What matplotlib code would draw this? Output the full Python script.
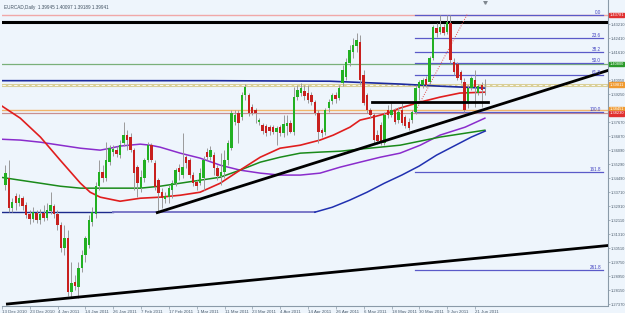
import matplotlib
matplotlib.use("Agg")
import matplotlib.pyplot as plt
import matplotlib.transforms as mtransforms
import numpy as np

plt.rcParams['font.family'] = ['Liberation Sans', 'DejaVu Sans']

# --- Data (prices) ---
title = "EURCAD,Daily  1.39945 1.40097 1.39189 1.39941"
date_labels = ["13 Dec 2010", "23 Dec 2010", "4 Jan 2011", "14 Jan 2011", "26 Jan 2011",
               "7 Feb 2011", "17 Feb 2011", "1 Mar 2011", "11 Mar 2011", "23 Mar 2011",
               "4 Apr 2011", "14 Apr 2011", "26 Apr 2011", "6 May 2011", "18 May 2011",
               "30 May 2011", "9 Jun 2011", "21 Jun 2011"]
price_ticks = ["1.27370", "1.28150", "1.28950", "1.29750", "1.30510", "1.31310", "1.32110",
               "1.32910", "1.33710", "1.34490", "1.35290", "1.36090", "1.36870", "1.37670",
               "", "1.39250", "1.40050", "", "1.41610", "1.42410", "1.43210"]

opens = [1.3411, 1.3451, 1.3281, 1.3349, 1.3309, 1.3337, 1.3298, 1.3247, 1.3218, 1.3252,
         1.3213, 1.3252, 1.3224, 1.3264, 1.3292, 1.3247, 1.3185, 1.3054, 1.3111, 1.2805,
         1.2862, 1.2834, 1.2941, 1.3015, 1.3071, 1.3201, 1.3247, 1.3405, 1.3485, 1.3451,
         1.3541, 1.3598, 1.3609, 1.3581, 1.3649, 1.3694, 1.3683, 1.3609, 1.3513, 1.3394,
         1.3451, 1.3552, 1.3637, 1.3535, 1.3439, 1.3371, 1.3332, 1.3343, 1.3383, 1.3422,
         1.3507, 1.3468, 1.3569, 1.3552, 1.3468, 1.3428, 1.3422, 1.3451, 1.3598, 1.3569,
         1.3581, 1.3507, 1.3462, 1.3485, 1.3552, 1.3620, 1.3768, 1.3818, 1.3796, 1.3920,
         1.3920, 1.3852, 1.3835, 1.3768, 1.3751, 1.3745, 1.3739, 1.3739, 1.3711, 1.3739,
         1.3705, 1.3745, 1.3762, 1.3711, 1.3909, 1.3932, 1.3943, 1.3932, 1.3920, 1.3881,
         1.3818, 1.3722, 1.3711, 1.3847, 1.3886, 1.3920, 1.3903, 1.3988, 1.4022, 1.4101,
         1.4164, 1.4198, 1.4220, 1.4034, 1.3920, 1.3835, 1.3807, 1.3694, 1.3751, 1.3649,
         1.3835, 1.3807, 1.3835, 1.3779, 1.3835, 1.3796, 1.3768, 1.3779, 1.3824, 1.3960,
         1.3977, 1.4011, 1.3994, 1.4130, 1.4300, 1.4277, 1.4305, 1.4277, 1.4328, 1.4107,
         1.4096, 1.4050, 1.3994, 1.3875, 1.3960, 1.4005, 1.3932, 1.3977, 1.39945]
highs = [1.3524, 1.3552, 1.3337, 1.3366, 1.3360, 1.3349, 1.3315, 1.3269, 1.3286, 1.3269,
         1.3275, 1.3298, 1.3309, 1.3371, 1.3303, 1.3269, 1.3201, 1.3185, 1.3156, 1.2975,
         1.2902, 1.2975, 1.3043, 1.3122, 1.3241, 1.3286, 1.3428, 1.3552, 1.3524, 1.3654,
         1.3637, 1.3637, 1.3632, 1.3666, 1.3768, 1.3722, 1.3705, 1.3620, 1.3524, 1.3496,
         1.3564, 1.3654, 1.3649, 1.3552, 1.3451, 1.3394, 1.3371, 1.3411, 1.3439, 1.3507,
         1.3530, 1.3705, 1.3581, 1.3564, 1.3485, 1.3439, 1.3507, 1.3575, 1.3620, 1.3632,
         1.3598, 1.3524, 1.3592, 1.3609, 1.3666, 1.3835, 1.3835, 1.3835, 1.3937, 1.3983,
         1.3932, 1.3869, 1.3847, 1.3790, 1.3762, 1.3756, 1.3751, 1.3751, 1.3745, 1.3751,
         1.3807, 1.3807, 1.3779, 1.3966, 1.3977, 1.3988, 1.3977, 1.3977, 1.3937, 1.3892,
         1.3835, 1.3734, 1.3847, 1.3898, 1.3932, 1.3937, 1.3977, 1.4090, 1.4130, 1.4203,
         1.4243, 1.4271, 1.4260, 1.4062, 1.3932, 1.3847, 1.3818, 1.3722, 1.3768, 1.3824,
         1.3864, 1.3875, 1.3847, 1.3852, 1.3875, 1.3807, 1.3790, 1.3835, 1.3977, 1.4005,
         1.4016, 1.4028, 1.4141, 1.4317, 1.4328, 1.4373, 1.4322, 1.4373, 1.4373, 1.4130,
         1.4107, 1.4062, 1.4016, 1.3977, 1.4028, 1.4062, 1.3983, 1.3994, 1.40097]
lows = [1.3383, 1.3258, 1.3258, 1.3269, 1.3292, 1.3269, 1.3224, 1.3190, 1.3201, 1.3196,
        1.3190, 1.3207, 1.3213, 1.3247, 1.3224, 1.3156, 1.3032, 1.3015, 1.2783, 1.2777,
        1.2817, 1.2771, 1.2919, 1.2975, 1.3054, 1.3179, 1.3224, 1.3383, 1.3428, 1.3434,
        1.3524, 1.3575, 1.3569, 1.3564, 1.3632, 1.3609, 1.3598, 1.3383, 1.3343, 1.3371,
        1.3428, 1.3541, 1.3541, 1.3383, 1.3258, 1.3281, 1.3309, 1.3309, 1.3337, 1.3405,
        1.3439, 1.3451, 1.3507, 1.3451, 1.3405, 1.3383, 1.3411, 1.3383, 1.3552, 1.3552,
        1.3468, 1.3439, 1.3411, 1.3451, 1.3524, 1.3609, 1.3751, 1.3649, 1.3779, 1.3892,
        1.3801, 1.3807, 1.3762, 1.3751, 1.3700, 1.3688, 1.3694, 1.3700, 1.3637, 1.3688,
        1.3683, 1.3694, 1.3705, 1.3694, 1.3892, 1.3915, 1.3892, 1.3875, 1.3864, 1.3807,
        1.3649, 1.3683, 1.3694, 1.3824, 1.3869, 1.3875, 1.3892, 1.3971, 1.4005, 1.4084,
        1.4130, 1.4164, 1.3977, 1.3864, 1.3818, 1.3790, 1.3649, 1.3643, 1.3637, 1.3637,
        1.3790, 1.3796, 1.3756, 1.3762, 1.3751, 1.3734, 1.3722, 1.3762, 1.3813, 1.3892,
        1.3960, 1.3966, 1.3983, 1.4118, 1.4249, 1.4266, 1.4260, 1.4266, 1.4101, 1.4034,
        1.4005, 1.3988, 1.3824, 1.3847, 1.3949, 1.3852, 1.3920, 1.3852, 1.39189]
closes = [1.3479, 1.3281, 1.3315, 1.3309, 1.3337, 1.3292, 1.3241, 1.3218, 1.3258, 1.3213,
          1.3247, 1.3224, 1.3269, 1.3298, 1.3247, 1.3185, 1.3054, 1.3111, 1.2805, 1.2856,
          1.2839, 1.2941, 1.3015, 1.3111, 1.3213, 1.3258, 1.3405, 1.3485, 1.3451, 1.3552,
          1.3620, 1.3615, 1.3586, 1.3637, 1.3694, 1.3666, 1.3609, 1.3479, 1.3422, 1.3456,
          1.3552, 1.3637, 1.3552, 1.3400, 1.3366, 1.3337, 1.3349, 1.3394, 1.3422, 1.3496,
          1.3485, 1.3513, 1.3535, 1.3468, 1.3422, 1.3405, 1.3479, 1.3552, 1.3569, 1.3609,
          1.3507, 1.3462, 1.3485, 1.3552, 1.3649, 1.3818, 1.3807, 1.3762, 1.3920, 1.3966,
          1.3818, 1.3818, 1.3818, 1.3779, 1.3717, 1.3705, 1.3717, 1.3711, 1.3734, 1.3705,
          1.3756, 1.3762, 1.3711, 1.3909, 1.3949, 1.3960, 1.3915, 1.3892, 1.3881, 1.3818,
          1.3711, 1.3705, 1.3835, 1.3881, 1.3920, 1.3898, 1.3960, 1.4062, 1.4107, 1.4175,
          1.4203, 1.4232, 1.4005, 1.3875, 1.3835, 1.3807, 1.3666, 1.3660, 1.3654, 1.3807,
          1.3807, 1.3835, 1.3768, 1.3824, 1.3762, 1.3745, 1.3734, 1.3824, 1.3960, 1.3994,
          1.4005, 1.3977, 1.4130, 1.4305, 1.4271, 1.4305, 1.4271, 1.4334, 1.4118, 1.4050,
          1.4016, 1.4005, 1.3835, 1.3960, 1.4016, 1.3966, 1.3971, 1.3949, 1.39941]

# moving averages sampled at bar positions
ma_red_idx = [-1.4, 4.3, 10.1, 15.8, 21.6, 24.4, 27.3, 33.0, 38.8, 44.5, 50.3, 56.0, 61.8,
              67.5, 73.3, 79.0, 84.8, 90.5, 94.3, 99.1, 102.0, 105.7, 109.8, 113.5, 119.3,
              125.0, 130.7, 137.9]
ma_red = [1.3864, 1.3790, 1.3683, 1.3552, 1.3422, 1.3371, 1.3343, 1.3320, 1.3337, 1.3343,
          1.3354, 1.3371, 1.3422, 1.3496, 1.3569, 1.3620, 1.3637, 1.3666, 1.3694, 1.3739,
          1.3779, 1.3796, 1.3818, 1.3847, 1.3881, 1.3909, 1.3932, 1.3937]
ma_green_idx = [-1.4, 4.3, 10.1, 15.8, 21.6, 27.3, 33.0, 38.8, 44.5, 50.3, 56.0, 61.8, 67.5,
                73.3, 79.0, 84.8, 90.5, 96.3, 102.0, 107.8, 113.5, 125.0, 137.9]
ma_green = [1.3456, 1.3439, 1.3422, 1.3405, 1.3394, 1.3394, 1.3394, 1.3394, 1.3405, 1.3422,
            1.3439, 1.3456, 1.3496, 1.3541, 1.3569, 1.3592, 1.3598, 1.3603, 1.3615, 1.3626,
            1.3637, 1.3683, 1.3722]
ma_purple_idx = [-1.4, 4.3, 10.1, 15.8, 21.6, 27.3, 30.2, 33.0, 38.8, 41.7, 44.5, 50.3,
                 56.0, 61.8, 67.5, 73.3, 79.0, 84.8, 90.5, 96.3, 102.0, 107.8, 113.5, 119.3,
                 125.0, 132.2, 137.9]
ma_purple = [1.3671, 1.3666, 1.3654, 1.3637, 1.3620, 1.3609, 1.3620, 1.3632, 1.3643, 1.3637,
             1.3626, 1.3592, 1.3564, 1.3524, 1.3496, 1.3479, 1.3468, 1.3468, 1.3479, 1.3513,
             1.3541, 1.3569, 1.3592, 1.3637, 1.3694, 1.3739, 1.3790]
ma_blue_idx = [89, 94, 99, 104, 109, 114, 119, 124, 129, 134, 138]
ma_blue = [1.3258, 1.3286, 1.3326, 1.3371, 1.3422, 1.3468, 1.3519, 1.3581, 1.3632, 1.3683,
           1.3717]
ma_navy_idx = [-1.4, 30, 60, 93.4, 113.5, 125.0, 138]
ma_navy = [1.4002, 1.4002, 1.4002, 1.3999, 1.3983, 1.3971, 1.3960]

# chart objects
fib_low, fib_high = 1.38248, 1.43764
fib_levels = [0.0, 23.6, 38.2, 50.0, 61.8, 100.0, 161.8, 261.8]
fib_start, fib_end = 117.8, 171.8
fib_diag = (117.8, 132.8)
trend_up = [(43.7, 1.32558), (173.3, 1.40600)]
trend_low = [(0.6, 1.27387), (173.3, 1.30696)]
hlines_full = [(1.43736, "#f0a8a8", 1.0), (1.43368, "black", 2.2), (1.40964, "#7ab07a", 0.9),
               (1.38362, "#f2b46a", 1.0), (1.38220, "#c89090", 0.9)]
dashed_line = 1.39804
support_line = (105.5, 138.8, 1.38814)
navy_seg = (-1.0, 31.0, 1.32591)
slate_seg = (31.0, 89.1, 1.32591)
axis_tags = [(1.43736, "1.43781", "#e03030"), (1.40964, "1.40800", "#2a9a2a"),
             (1.39804, "1.39811", "#f09a30"), (1.38392, "1.38451", "#f09a30"),
             (1.38170, "1.38230", "#e03030")]

# --- Figure ---
bg = "#eef5fc"
fig = plt.figure(figsize=(6.25, 3.13), dpi=100, facecolor=bg)
ax = fig.add_axes([2 / 625, 7.5 / 313, 606 / 625, 305 / 313], facecolor=bg)
ax.set_xlim(-0.862, 173.3)
ax.set_ylim(1.27302, 1.44556)

for v, c, lw in hlines_full:
    ax.axhline(v, color=c, lw=lw, zorder=2)
ax.axhline(dashed_line, color="#d9cf98", lw=2.2, zorder=2)
ax.axhline(dashed_line, color="white", lw=0.6, ls=(0, (4, 3)), zorder=2)
ax.plot(support_line[:2], [support_line[2]] * 2, color="black", lw=2.0, zorder=5)
ax.plot(navy_seg[:2], [navy_seg[2]] * 2, color="#1c2a8c", lw=1.0, zorder=2)
ax.plot(slate_seg[:2], [slate_seg[2]] * 2, color="#7a78c8", lw=1.4, zorder=2)

# fibonacci
rng = fib_high - fib_low
for lv in fib_levels:
    y = fib_high - rng * lv / 100
    ax.plot([fib_start, fib_end], [y, y], color="#5a5ac8", lw=0.9, zorder=2)
    ax.text(fib_end - 0.5, y, f"{lv:.1f}", color="#4040c0", fontsize=3.3,
            ha="right", va="bottom", zorder=6)
ax.plot(fib_diag, [fib_low, fib_high], color="#e05050", lw=0.7, ls=(0, (1, 1.5)), zorder=3)

# moving averages
ax.plot(ma_navy_idx, ma_navy, color="#1c2a9c", lw=1.2, zorder=3)
ax.plot(ma_purple_idx, ma_purple, color="#8a2ccc", lw=1.1, zorder=3)
ax.plot(ma_green_idx, ma_green, color="#1a8a1a", lw=1.1, zorder=3)
ax.plot(ma_blue_idx, ma_blue, color="#2030b0", lw=1.1, zorder=3)
ax.plot(ma_red_idx, ma_red, color="#e01e1e", lw=1.2, zorder=3)

# trendlines
for tl in (trend_up, trend_low):
    ax.plot([tl[0][0], tl[1][0]], [tl[0][1], tl[1][1]], color="black", lw=2.0, zorder=5)

# candles
o, h, l, c = map(np.array, (opens, highs, lows, closes))
idx = np.arange(len(c))
ax.vlines(idx, l, h, color="#9a9a9a", lw=0.7, zorder=4)
up = c >= o
ax.bar(idx[up], (c - o)[up], bottom=o[up], width=0.7, color="#22b022", lw=0, zorder=4)
ax.bar(idx[~up], (o - c)[~up], bottom=c[~up], width=0.7, color="#c8201e", lw=0, zorder=4)

# axes styling
for s in ["top", "left"]:
    ax.spines[s].set_visible(False)
for s in ["right", "bottom"]:
    ax.spines[s].set_color("#8a9aa8")
    ax.spines[s].set_linewidth(0.8)
ax.yaxis.tick_right()
tick_vals = [1.2737 + k * 0.00792 for k in range(len(price_ticks))]
ax.set_yticks(tick_vals)
ax.set_yticklabels(price_ticks)
ax.tick_params(axis="y", length=1.5, width=0.5, colors="#8a9aa8", labelsize=2.9,
               labelcolor="#506070", pad=0.6)
ax.set_xticks(np.arange(len(date_labels)) * 8 - 0.95)
ax.set_xticklabels(date_labels, ha="left")
ax.tick_params(axis="x", length=2, width=0.5, colors="#8a9aa8", labelsize=3.2,
               labelcolor="#506070", pad=1)

trans = mtransforms.blended_transform_factory(ax.transAxes, ax.transData)
for v, txt, col in axis_tags:
    ax.text(1.002, v, txt, transform=trans, fontsize=2.9, color="white", va="center",
            ha="left", zorder=10, clip_on=False,
            bbox=dict(boxstyle="square,pad=0.1", fc=col, ec=col))

ax.text(0.004, 0.985, title, transform=ax.transAxes, fontsize=3.3, color="#405060",
        ha="left", va="top")
ax.plot([138], [1.4449], marker="v", ms=2.5, color="#808890", zorder=6)

fig.savefig("out.png", dpi=100, facecolor=bg)
